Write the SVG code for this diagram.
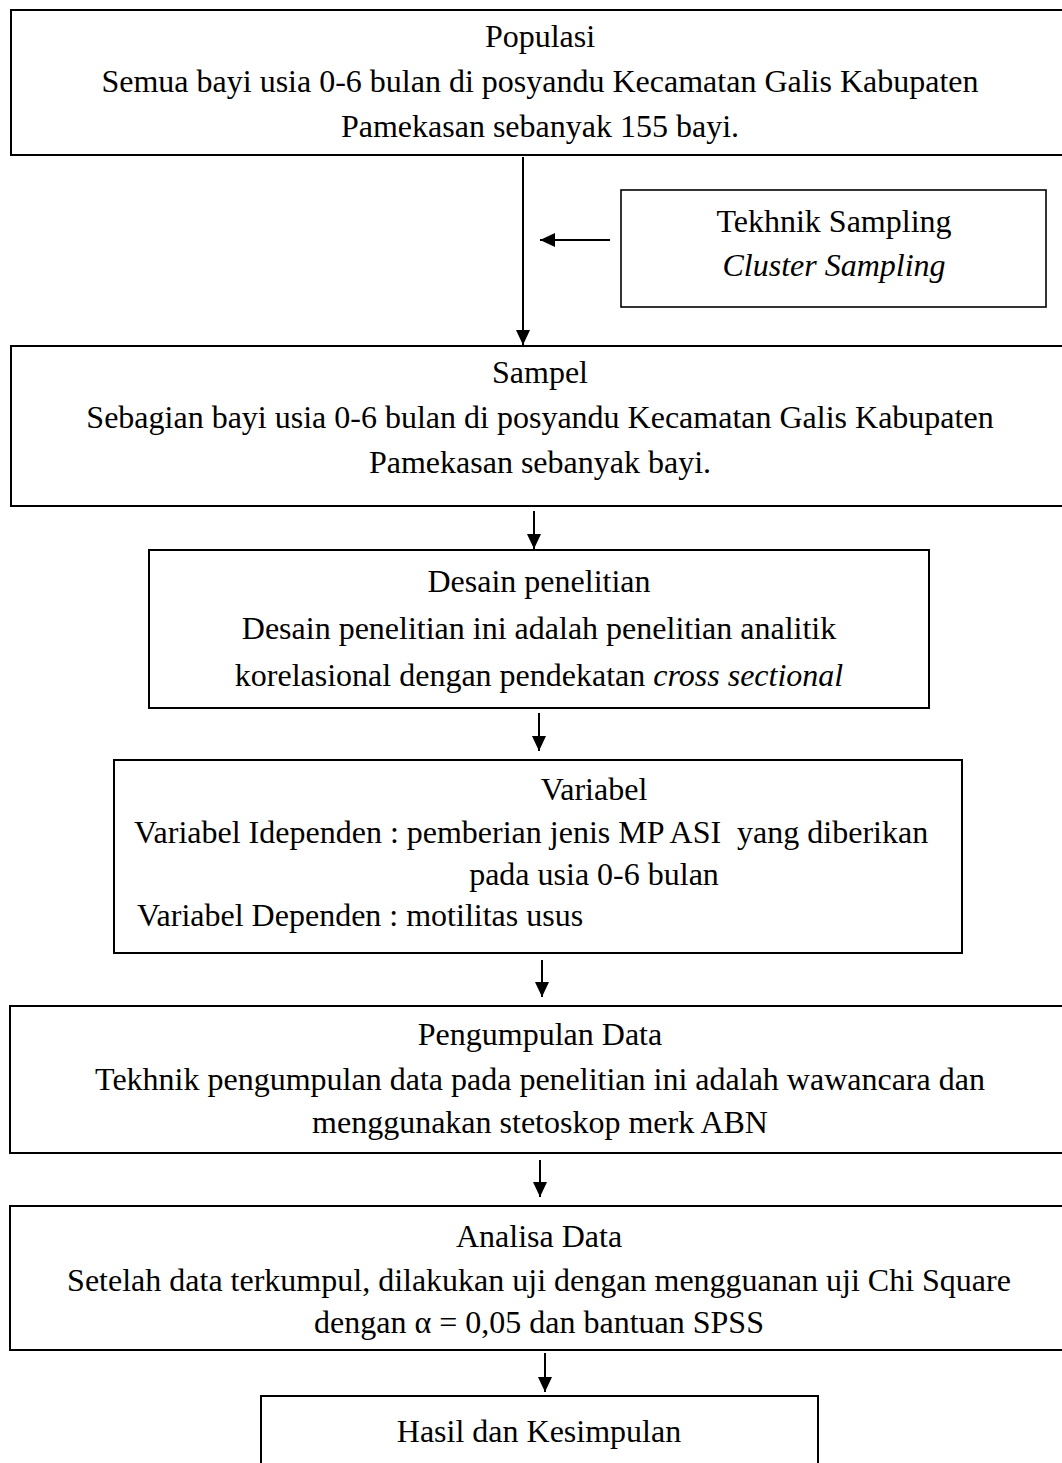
<svg xmlns="http://www.w3.org/2000/svg" width="1062" height="1463" viewBox="0 0 1062 1463">
<style>
.box{fill:#fff;stroke:#000;stroke-width:2}
.thin{fill:#fff;stroke:#000;stroke-width:1.6}
text{font-family:"Liberation Serif","Times New Roman",serif;font-size:32px;fill:#000}
.c{text-anchor:middle}
.i{font-style:italic}
.conn{stroke:#000;stroke-width:2;fill:none;marker-end:url(#ah)}
</style>
<defs>
<marker id="ah" viewBox="0 0 15 14" refX="15" refY="7" markerWidth="15" markerHeight="14" markerUnits="userSpaceOnUse" orient="auto">
<path d="M0,0 L15,7 L0,14 Z" fill="#000"/>
</marker>
</defs>
<rect width="1062" height="1463" fill="#fff"/>
<g id="populasi">
<rect class="box" x="11" y="10" width="1070" height="145"/>
<text class="c" x="540" y="47">Populasi</text>
<text class="c" x="540" y="92">Semua bayi usia 0-6 bulan di posyandu Kecamatan Galis Kabupaten</text>
<text class="c" x="540" y="137">Pamekasan sebanyak 155 bayi.</text>
</g>
<g id="tekhnik">
<rect class="thin" x="621" y="190" width="425" height="117"/>
<text class="c" x="834" y="232">Tekhnik Sampling</text>
<text class="c i" x="834" y="276">Cluster Sampling</text>
</g>
<g id="sampel">
<rect class="box" x="11" y="346" width="1070" height="160"/>
<text class="c" x="540" y="383">Sampel</text>
<text class="c" x="540" y="428">Sebagian bayi usia 0-6 bulan di posyandu Kecamatan Galis Kabupaten</text>
<text class="c" x="540" y="473">Pamekasan sebanyak bayi.</text>
</g>
<g id="desain">
<rect class="box" x="149" y="550" width="780" height="158"/>
<text class="c" x="539" y="592">Desain penelitian</text>
<text class="c" x="539" y="639">Desain penelitian ini adalah penelitian analitik</text>
<text class="c" x="539" y="686">korelasional dengan pendekatan <tspan class="i">cross sectional</tspan></text>
</g>
<g id="variabel">
<rect class="box" x="114" y="760" width="848" height="193"/>
<text class="c" x="594" y="800">Variabel</text>
<text x="134" y="843">Variabel Idependen : pemberian jenis MP ASI&#160; yang diberikan</text>
<text class="c" x="594" y="885">pada usia 0-6 bulan</text>
<text x="137" y="926">Variabel Dependen : motilitas usus</text>
</g>
<g id="pengumpulan">
<rect class="box" x="10" y="1006" width="1070" height="147"/>
<text class="c" x="540" y="1045">Pengumpulan Data</text>
<text class="c" x="540" y="1090">Tekhnik pengumpulan data pada penelitian ini adalah wawancara dan</text>
<text class="c" x="540" y="1133">menggunakan stetoskop merk ABN</text>
</g>
<g id="analisa">
<rect class="box" x="10" y="1206" width="1070" height="144"/>
<text class="c" x="539" y="1247">Analisa Data</text>
<text class="c" x="539" y="1291">Setelah data terkumpul, dilakukan uji dengan mengguanan uji Chi Square</text>
<text class="c" x="539" y="1333">dengan α = 0,05 dan bantuan SPSS</text>
</g>
<g id="hasil">
<rect class="box" x="261" y="1396" width="557" height="100"/>
<text class="c" x="539" y="1442">Hasil dan Kesimpulan</text>
</g>
<g id="connectors">
<line class="conn" x1="523" y1="157" x2="523" y2="345"/>
<line class="conn" x1="610" y1="240" x2="540" y2="240"/>
<line class="conn" x1="534" y1="511" x2="534" y2="549"/>
<line class="conn" x1="539" y1="713" x2="539" y2="751"/>
<line class="conn" x1="542" y1="960" x2="542" y2="997"/>
<line class="conn" x1="540" y1="1160" x2="540" y2="1197"/>
<line class="conn" x1="545" y1="1353" x2="545" y2="1392"/>
</g>
</svg>
